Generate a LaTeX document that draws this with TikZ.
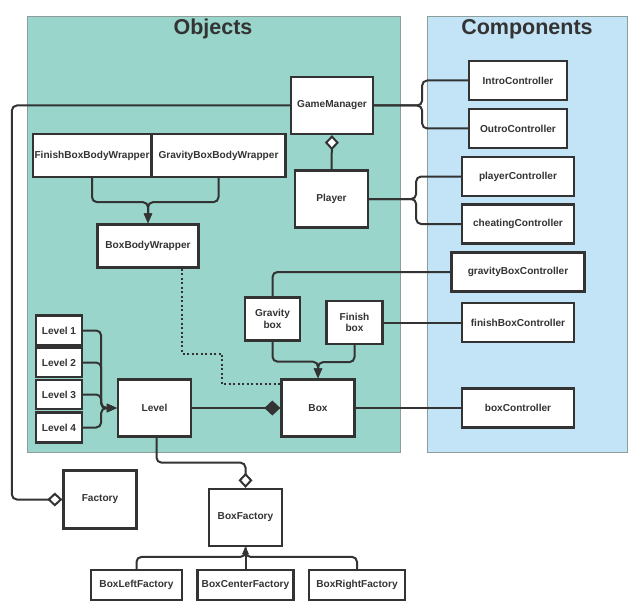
\documentclass[tikz,border=0pt]{standalone}
\usepackage{fontspec}
\setmainfont{Liberation Sans}
\usepackage{xcolor}
\usetikzlibrary{arrows.meta}
\definecolor{objfill}{HTML}{99D5CA}
\definecolor{compfill}{HTML}{C3E4F6}
\definecolor{panelline}{HTML}{8E9C9A}
\definecolor{ink}{HTML}{333333}

\begin{document}
\begin{tikzpicture}[x=1pt, y=-1pt,
    cls/.style={draw=ink, fill=white, line width=2.3pt, inner sep=1pt, text=ink,
        font=\fontsize{10.1}{11.5}\selectfont\bfseries, align=center},
    conn/.style={draw=ink, line width=2pt, rounded corners=5pt},
    inherit/.style={-{Triangle[length=10pt, width=8pt]}},
    agg/.style={-{Diamond[open, fill=white, length=15pt, width=14pt]}},
    compo/.style={-{Diamond[length=16pt, width=15pt]}},
    paneltitle/.style={text=ink, font=\fontsize{21.5}{24}\selectfont\bfseries}]
    \useasboundingbox (0,0) rectangle (642,615);

    % panels
    \path[draw=panelline, line width=0.8pt, fill=objfill] (27,16) rectangle (400,452);
    \path[draw=panelline, line width=0.8pt, fill=compfill] (427,16) rectangle (627,452);
    \node[paneltitle] (objtitle) at (213,29) {Objects};
    \node[paneltitle] (comptitle) at (527,29) {Components};

    % objects
    \node[cls, minimum width=82pt, minimum height=57pt] (gm) at (332,105.5) {GameManager};
    \node[cls, minimum width=73pt, minimum height=57pt] (player) at (331.5,199) {Player};
    \node[cls, minimum width=118pt, minimum height=43pt] (fbbw) at (92,155.5) {FinishBoxBodyWrapper};
    \node[cls, minimum width=134pt, minimum height=43pt] (gbbw) at (218.5,155.5) {GravityBoxBodyWrapper};
    \node[cls, minimum width=101pt, minimum height=43pt] (bbw) at (148,246) {BoxBodyWrapper};
    \node[cls, minimum width=55pt, minimum height=43pt] (gbox) at (272.5,319) {Gravity\\box};
    \node[cls, minimum width=56pt, minimum height=43pt] (fbox) at (354.5,322.5) {Finish\\box};
    \node[cls, minimum width=46pt, minimum height=30pt] (lvone) at (59,330.5) {Level 1};
    \node[cls, minimum width=46pt, minimum height=29pt] (lvtwo) at (59,362.5) {Level 2};
    \node[cls, minimum width=46pt, minimum height=29pt] (lvthree) at (59,394.5) {Level 3};
    \node[cls, minimum width=46pt, minimum height=30pt] (lvfour) at (59,427.5) {Level 4};
    \node[cls, minimum width=73pt, minimum height=57pt] (level) at (154.5,408) {Level};
    \node[cls, minimum width=73pt, minimum height=57pt] (box) at (318,408) {Box};

    % components
    \node[cls, minimum width=98pt, minimum height=39pt] (intro) at (518,80.5) {IntroController};
    \node[cls, minimum width=98pt, minimum height=39pt] (outro) at (518,128.5) {OutroController};
    \node[cls, minimum width=112pt, minimum height=39pt] (pctrl) at (518,176.5) {playerController};
    \node[cls, minimum width=112pt, minimum height=39pt] (cctrl) at (518,224) {cheatingController};
    \node[cls, minimum width=133pt, minimum height=39pt] (gbctrl) at (518,272) {gravityBoxController};
    \node[cls, minimum width=112pt, minimum height=39pt] (fbctrl) at (518,322.5) {finishBoxController};
    \node[cls, minimum width=112pt, minimum height=39pt] (bctrl) at (518,408) {boxController};

    % outside
    \node[cls, minimum width=73pt, minimum height=58pt] (factory) at (100,499.5) {Factory};
    \node[cls, minimum width=73pt, minimum height=57pt] (bfac) at (245.5,517.5) {BoxFactory};
    \node[cls, minimum width=91pt, minimum height=30pt] (bleft) at (136.5,585) {BoxLeftFactory};
    \node[cls, minimum width=96pt, minimum height=30pt] (bcenter) at (245.5,585) {BoxCenterFactory};
    \node[cls, minimum width=96pt, minimum height=30pt] (bright) at (357,585) {BoxRightFactory};

    % connectors
    \draw[conn, agg] (gm.west) -- ++(-278,0) |- (factory.west);
    \draw[conn] (gm.east) -- ++(48,0) |- (intro.west);
    \draw[conn] (gm.east) -- ++(48,0) |- (outro.west);
    \draw[conn, agg] (player.north) -- (gm.south);
    \draw[conn] (player.east) -- ++(47,0) |- (pctrl.west);
    \draw[conn] (player.east) -- ++(47,0) |- (cctrl.west);

    \draw[conn, inherit] (fbbw.south) -- ++(0,24) -| (bbw.north);
    \draw[conn, inherit] (gbbw.south) -- ++(0,24) -| (bbw.north);
    \draw[ink, line width=2pt, dash pattern=on 2pt off 2.5pt]
        ([xshift=34pt]bbw.south) |- ++(40,85) |- ([yshift=24pt]box.west);

    \draw[conn] (gbox.north) |- (gbctrl.west);
    \draw[conn] (fbox.east) -- (fbox.east -| fbctrl.west);
    \draw[conn, inherit] (gbox.south) -- ++(0,20) -| (box.north);
    \draw[conn, inherit] (fbox.south) -- ++(0,17) -| (box.north);

    \draw[conn, inherit] (lvone.east) -- ++(18,0) |- (level.west);
    \draw[conn, inherit] (lvtwo.east) -- ++(18,0) |- (level.west);
    \draw[conn, inherit] (lvthree.east) -- ++(18,0) |- (level.west);
    \draw[conn, inherit] (lvfour.east) -- ++(18,0) |- (level.west);
    \draw[conn, compo] (level.east) -- (box.west);
    \draw[conn] (box.east) -- (bctrl.west);

    \draw[conn, agg] ([xshift=2pt]level.south) -- ++(0,25) -| (bfac.north);
    \draw[conn, -{Triangle[length=7pt, width=6pt]}] (bleft.north) -- ++(0,-12) -| (bfac.south);
    \draw[conn, -{Triangle[length=7pt, width=6pt]}] (bright.north) -- ++(0,-12) -| (bfac.south);
    \draw[conn, -{Triangle[length=7pt, width=6pt]}] (bcenter.north) -- (bfac.south);
\end{tikzpicture}
\end{document}
